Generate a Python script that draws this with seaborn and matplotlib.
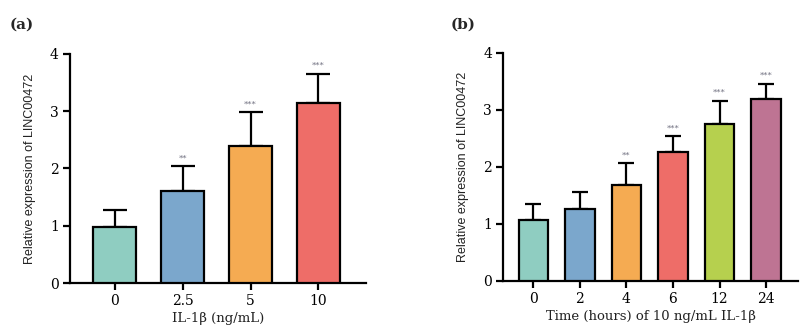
import matplotlib
matplotlib.use("Agg")
import matplotlib.pyplot as plt
import seaborn as sns
import pandas as pd

# Panel (a)
a_cats = ["0", "2.5", "5", "10"]
a_vals = [0.98, 1.60, 2.40, 3.15]
a_err = [0.29, 0.44, 0.58, 0.50]
a_sig = ["", "**", "***", "***"]
a_colors = ["#8FCDC1", "#7BA7CC", "#F5AB52", "#EE6D68"]

# Panel (b)
b_cats = ["0", "2", "4", "6", "12", "24"]
b_vals = [1.06, 1.26, 1.68, 2.26, 2.75, 3.18]
b_err = [0.29, 0.30, 0.38, 0.27, 0.41, 0.27]
b_sig = ["", "", "**", "***", "***", "***"]
b_colors = ["#8FCDC1", "#7BA7CC", "#F5AB52", "#EE6D68", "#B6D04E", "#BE7493"]

sns.set_style("white")
plt.rcParams["font.family"] = ["DejaVu Serif"]

fig = plt.figure(figsize=(8.1, 3.31), dpi=100)
axA = fig.add_axes([0.0864, 0.145, 0.3654, 0.692])
axB = fig.add_axes([0.6214, 0.152, 0.364, 0.689])

def panel(ax, cats, vals, err, sig, colors, xlabel, capsize, xlim):
    df = pd.DataFrame({"c": cats, "v": vals})
    sns.barplot(data=df, x="c", y="v", hue="c", order=cats, hue_order=cats,
                palette=colors, saturation=1, legend=False, width=0.63,
                edgecolor="black", linewidth=1.6, ax=ax, zorder=3)
    xs = list(range(len(cats)))
    ax.errorbar(xs, vals, yerr=[[0] * len(vals), err], fmt="none",
                ecolor="black", elinewidth=1.6, capsize=capsize, capthick=1.6,
                zorder=2)
    for x, v, e, s in zip(xs, vals, err, sig):
        if s:
            ax.text(x, v + e + 0.07, s, ha="center", va="bottom", fontsize=6,
                    color="#707080")
    ax.set_ylim(0, 4)
    ax.set_xlim(*xlim)
    ax.set_yticks([0, 1, 2, 3, 4])
    ax.set_xlabel(xlabel, fontsize=9.5, labelpad=3, color="#222222")
    ax.set_ylabel("Relative expression of LINC00472", fontsize=9,
                  fontfamily="Liberation Sans", labelpad=10, color="#222222")
    for sp in ["top", "right"]:
        ax.spines[sp].set_visible(False)
    for sp in ["left", "bottom"]:
        ax.spines[sp].set_linewidth(1.6)
        ax.spines[sp].set_color("black")
    ax.tick_params(axis="both", direction="out", length=5, width=1.6,
                   labelsize=10, colors="black", pad=3)
    ax.tick_params(axis="both", which="both", bottom=True, left=True)

panel(axA, a_cats, a_vals, a_err, a_sig, a_colors, "IL-1β (ng/mL)", 8.3, (-0.66, 3.7))
panel(axB, b_cats, b_vals, b_err, b_sig, b_colors, "Time (hours) of 10 ng/mL IL-1β", 5.5, (-0.645, 5.69))

fig.text(0.012, 0.925, "(a)", fontsize=11, fontweight="bold", va="center", ha="left")
fig.text(0.556, 0.925, "(b)", fontsize=11, fontweight="bold", va="center", ha="left")

fig.savefig("out.png", dpi=100)
